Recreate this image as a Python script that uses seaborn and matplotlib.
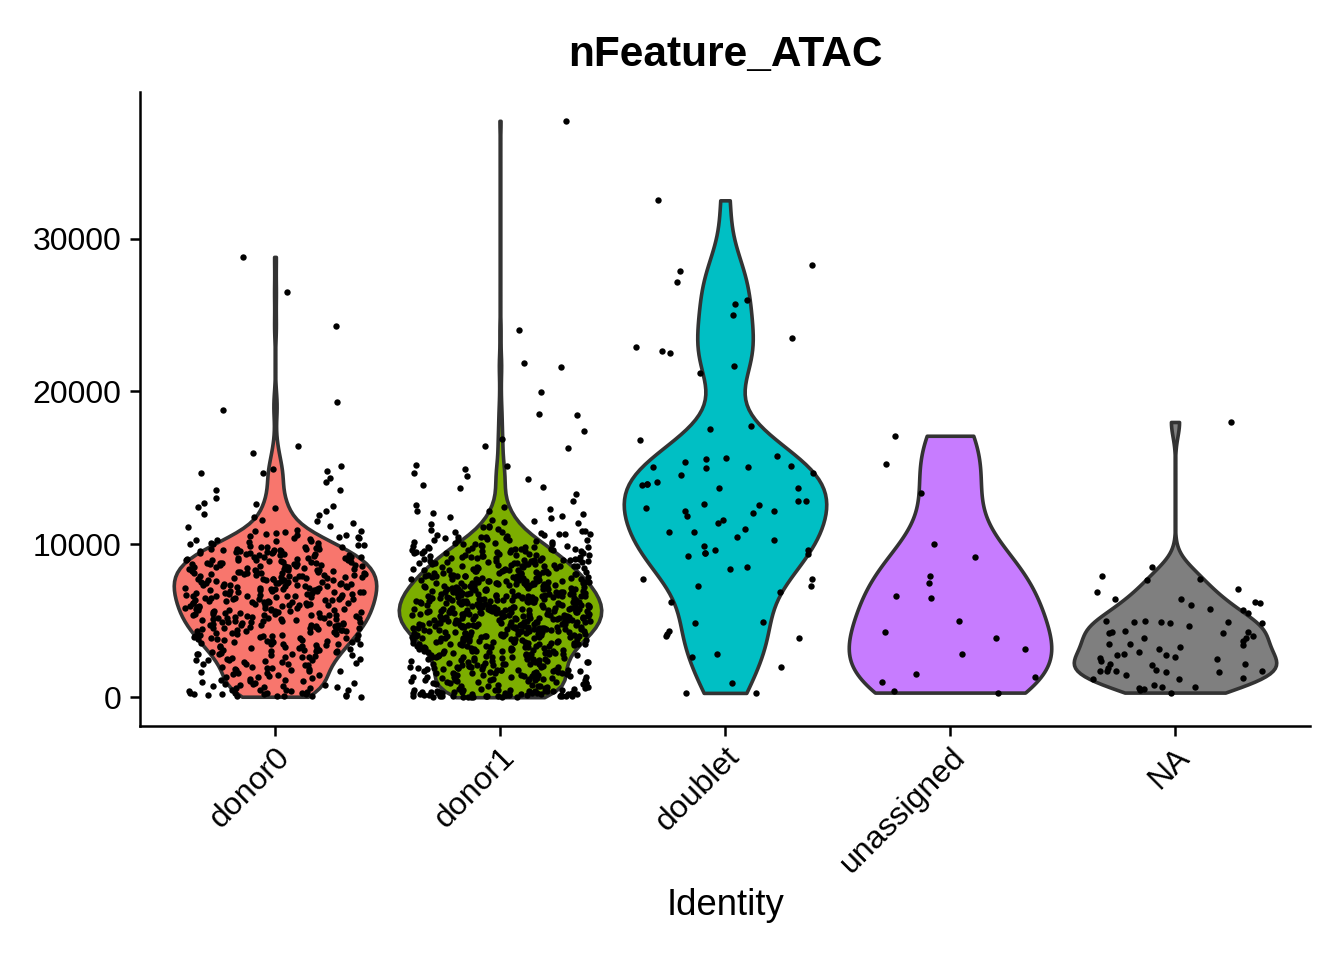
import numpy as np
import pandas as pd
import matplotlib
matplotlib.use("Agg")
import matplotlib.pyplot as plt
import seaborn as sns

idents = ["donor0", "donor1", "doublet", "unassigned", "NA"]
ident_colors = ["#F8766D", "#7CAE00", "#00BFC4", "#C77CFF", "#7F7F7F"]
y_ticks = [0, 10000, 20000, 30000]

# nFeature_ATAC per cell (approx.)
donor0 = [
    50, 60, 80, 100, 100, 120, 150, 180, 200, 200, 250, 300, 300, 300, 350, 400, 400, 450, 500, 500,
    600, 600, 650, 700, 700, 800, 800, 850, 900, 950, 30, 230, 470, 680, 870,
    1000, 1050, 1100, 1200, 1300, 1350, 1400, 1500, 1550, 1600, 1700, 1750, 1800, 1850, 1900, 1950,
    1100, 1450, 1650, 1900, 1070, 1280, 1470, 1680, 1870,
    2000, 2100, 2150, 2200, 2300, 2350, 2400, 2450, 2500, 2500, 2600, 2650, 2700, 2750, 2800, 2800,
    2850, 2900, 2950, 2150, 2450, 2650, 2850, 2250, 2080, 2270, 2420, 2580, 2770, 2930,
    3000, 3000, 3050, 3100, 3100, 3150, 3200, 3200, 3250, 3300, 3350, 3400, 3400, 3450, 3500, 3500,
    3550, 3600, 3600, 3650, 3700, 3700, 3750, 3800, 3800, 3850, 3900, 3900, 3950, 3950,
    3080, 3220, 3380, 3470, 3580, 3720, 3830, 3970,
    4000, 4000, 4050, 4100, 4100, 4150, 4200, 4200, 4250, 4300, 4300, 4350, 4400, 4400, 4450, 4500,
    4500, 4550, 4600, 4600, 4650, 4700, 4700, 4750, 4800, 4800, 4850, 4850, 4900, 4900, 4950, 4950,
    4250, 4550, 4750, 4030, 4130, 4270, 4380, 4470, 4530, 4680, 4720, 4830, 4970,
    5000, 5000, 5050, 5100, 5100, 5150, 5200, 5200, 5250, 5300, 5300, 5350, 5400, 5400, 5450, 5500,
    5500, 5550, 5600, 5600, 5650, 5700, 5700, 5750, 5800, 5800, 5850, 5900, 5900, 5950, 5950, 5150,
    5350, 5450, 5650, 5850, 5250, 5030, 5130, 5270, 5380, 5470, 5530, 5680, 5720, 5830, 5970, 5160,
    5640,
    6000, 6000, 6050, 6100, 6100, 6150, 6200, 6200, 6250, 6300, 6300, 6350, 6400, 6400, 6450, 6500,
    6500, 6550, 6600, 6600, 6650, 6700, 6700, 6750, 6800, 6800, 6850, 6900, 6900, 6950, 6950, 6050,
    6250, 6450, 6650, 6850, 6150, 6550, 6750, 6030, 6130, 6270, 6380, 6470, 6530, 6680, 6720, 6830,
    6970, 6160, 6640, 6340,
    7000, 7000, 7050, 7100, 7100, 7150, 7200, 7200, 7250, 7300, 7300, 7350, 7400, 7400, 7450, 7500,
    7500, 7550, 7600, 7600, 7650, 7700, 7700, 7750, 7800, 7800, 7850, 7900, 7900, 7950, 7950, 7050,
    7250, 7450, 7650, 7850, 7150, 7550, 7750, 7350, 7030, 7130, 7270, 7380, 7470, 7530, 7680, 7720,
    7830, 7970, 7160, 7640, 7340, 7820,
    8000, 8000, 8050, 8100, 8100, 8150, 8200, 8200, 8250, 8300, 8300, 8350, 8400, 8400, 8450, 8500,
    8500, 8550, 8600, 8600, 8650, 8700, 8700, 8750, 8800, 8800, 8850, 8900, 8900, 8950, 8950, 8050,
    8250, 8450, 8650, 8850, 8150, 8550, 8750, 8030, 8130, 8270, 8380, 8470, 8530, 8680, 8720, 8830,
    8970, 8160, 8640, 8340,
    9000, 9000, 9050, 9100, 9100, 9150, 9200, 9200, 9250, 9300, 9300, 9350, 9400, 9400, 9450, 9500,
    9500, 9550, 9600, 9600, 9650, 9700, 9700, 9750, 9800, 9800, 9850, 9900, 9900, 9950, 9150, 9350,
    9550, 9030, 9130, 9270, 9380, 9470, 9530, 9680, 9720, 9830, 9970,
    10000, 10050, 10100, 10150, 10200, 10250, 10300, 10350, 10400, 10450, 10500, 10550, 10600, 10700,
    10750, 10850, 10900, 10950, 10080, 10230, 10420, 10630, 10810,
    11100, 11200, 11400, 11500, 11600, 11800, 11900,
    12000, 12150, 12400, 12450, 12500, 12650, 12700, 13000, 13550, 13550, 14100, 14350, 14650, 14650,
    14800, 14950, 15150, 16000, 16400, 18800, 19300, 24250, 26500, 28800,
]

donor1 = [
    0, 0, 0, 10, 20, 30, 40, 50, 50, 60, 70, 80, 90, 100, 100, 100, 100, 110, 120, 130, 130, 150,
    150, 150, 160, 180, 180,
    200, 200, 200, 200, 220, 240, 250, 250, 260, 270, 300, 300, 300, 320, 330, 340, 350, 350, 380,
    400, 400, 400, 420, 430, 450, 450, 480, 500, 500, 500, 520, 550, 550, 600, 600, 650, 650, 700,
    700, 750, 750, 800, 800, 850, 850, 900, 900, 950, 950,
    1000, 1000, 1050, 1100, 1100, 1150, 1200, 1200, 1250, 1300, 1300, 1350, 1400, 1400, 1450, 1500,
    1500, 1550, 1600, 1600, 1650, 1700, 1700, 1750, 1800, 1800, 1850, 1900, 1900, 1950, 1050, 1150,
    1250, 1350, 1450, 1550, 1650, 1750, 1850, 1950, 1020, 1180, 1320, 1480, 1620, 1780, 1920, 1240,
    1560, 1880, 1030, 1130, 1270, 1380, 1470, 1580, 1680, 1770, 1870, 1970,
    2000, 2000, 2050, 2100, 2100, 2150, 2200, 2200, 2250, 2300, 2300, 2350, 2400, 2400, 2450, 2500,
    2500, 2550, 2600, 2600, 2650, 2700, 2700, 2750, 2800, 2800, 2850, 2900, 2900, 2950, 2050, 2150,
    2250, 2350, 2450, 2550, 2650, 2750, 2850, 2950, 2020, 2180, 2320, 2480, 2620, 2780, 2920,
    2030, 2130, 2270, 2380, 2470, 2580, 2680, 2770, 2870, 2970,
    3000, 3000, 3050, 3100, 3100, 3150, 3200, 3200, 3250, 3300, 3300, 3350, 3400, 3400, 3450, 3500,
    3500, 3550, 3600, 3600, 3650, 3700, 3700, 3750, 3800, 3800, 3850, 3900, 3900, 3950, 3050, 3150,
    3250, 3350, 3450, 3550, 3650, 3750, 3850, 3950, 3020, 3180, 3320, 3480, 3620, 3780, 3920, 3240,
    3560, 3880, 3030, 3080, 3130, 3220, 3270, 3330, 3380, 3420, 3470, 3530, 3580, 3630, 3680, 3720,
    3770, 3830, 3870, 3930, 3970, 3610,
    4000, 4000, 4050, 4100, 4100, 4150, 4200, 4200, 4250, 4300, 4300, 4350, 4400, 4400, 4450, 4500,
    4500, 4550, 4600, 4600, 4650, 4700, 4700, 4750, 4800, 4800, 4850, 4900, 4900, 4950, 4050, 4150,
    4250, 4350, 4450, 4550, 4650, 4750, 4850, 4950, 4020, 4180, 4320, 4480, 4620, 4780, 4920, 4240,
    4560, 4880, 4100, 4300, 4500, 4700, 4900, 4000, 4600, 4030, 4080, 4130, 4220, 4270, 4330, 4380,
    4420, 4470, 4530, 4580, 4630, 4680, 4720, 4770, 4830, 4870, 4930, 4970, 4610, 4110, 4290, 4510,
    4690, 4810, 4160, 4340, 4460, 4640, 4760,
    5000, 5000, 5050, 5100, 5100, 5150, 5200, 5200, 5250, 5300, 5300, 5350, 5400, 5400, 5450, 5500,
    5500, 5550, 5600, 5600, 5650, 5700, 5700, 5750, 5800, 5800, 5850, 5900, 5900, 5950, 5050, 5150,
    5250, 5350, 5450, 5550, 5650, 5750, 5850, 5950, 5020, 5180, 5320, 5480, 5620, 5780, 5920, 5240,
    5560, 5880, 5000, 5100, 5200, 5300, 5400, 5500, 5600, 5700, 5800, 5900, 5030, 5080, 5130, 5220,
    5270, 5330, 5380, 5420, 5470, 5530, 5580, 5630, 5680, 5720, 5770, 5830, 5870, 5930, 5970, 5610,
    5110, 5290, 5510, 5690, 5810, 5160, 5340, 5460, 5640, 5760, 5210, 5410, 5710,
    6000, 6000, 6050, 6100, 6100, 6150, 6200, 6200, 6250, 6300, 6300, 6350, 6400, 6400, 6450, 6500,
    6500, 6550, 6600, 6600, 6650, 6700, 6700, 6750, 6800, 6800, 6850, 6900, 6900, 6950, 6050, 6150,
    6250, 6350, 6450, 6550, 6650, 6750, 6850, 6950, 6020, 6180, 6320, 6480, 6620, 6780, 6920, 6240,
    6560, 6880, 6100, 6300, 6500, 6700, 6900, 6000, 6600, 6030, 6080, 6130, 6220, 6270, 6330, 6380,
    6420, 6470, 6530, 6580, 6630, 6680, 6720, 6770, 6830, 6870, 6930, 6970, 6610, 6110, 6290, 6510,
    6690, 6810, 6160, 6340, 6460, 6640, 6760, 6210, 6410,
    7000, 7000, 7050, 7100, 7100, 7150, 7200, 7200, 7250, 7300, 7300, 7350, 7400, 7400, 7450, 7500,
    7500, 7550, 7600, 7600, 7650, 7700, 7700, 7750, 7800, 7800, 7850, 7900, 7900, 7950, 7050, 7150,
    7250, 7350, 7450, 7550, 7650, 7750, 7850, 7950, 7020, 7180, 7320, 7480, 7620, 7780, 7920, 7240,
    7560, 7880, 7100, 7500, 7030, 7080, 7130, 7220, 7270, 7330, 7380, 7420, 7470, 7530, 7580, 7630,
    7680, 7720, 7770, 7830, 7870, 7930, 7970, 7610, 7110, 7290, 7510, 7690, 7810, 7160, 7340, 7460,
    8000, 8000, 8050, 8100, 8100, 8150, 8200, 8200, 8250, 8300, 8300, 8350, 8400, 8400, 8450, 8500,
    8500, 8550, 8600, 8600, 8650, 8700, 8700, 8750, 8800, 8800, 8850, 8900, 8900, 8950, 8050, 8150,
    8250, 8350, 8450, 8550, 8650, 8750, 8850, 8950, 8240, 8560, 8880, 8030, 8080, 8130, 8220, 8270,
    8330, 8380, 8420, 8470, 8530, 8580, 8630, 8680, 8720, 8770, 8830, 8870, 8930, 8970, 8610, 8110,
    8290,
    9000, 9000, 9050, 9100, 9100, 9150, 9200, 9200, 9250, 9300, 9300, 9350, 9400, 9400, 9450, 9500,
    9500, 9550, 9600, 9600, 9650, 9700, 9700, 9750, 9800, 9800, 9850, 9900, 9900, 9950, 9240, 9560,
    9880, 9020, 9030, 9080, 9130, 9220, 9270, 9330, 9380, 9420, 9470, 9530, 9580, 9630, 9680, 9720,
    9770, 9830,
    10000, 10050, 10100, 10150, 10200, 10250, 10300, 10350, 10400, 10450, 10500, 10550, 10600, 10650,
    10700, 10750, 10800, 10850, 10900, 10950, 10100, 10300, 10030, 10130, 10270, 10380, 10470, 10580,
    10680, 10830,
    11000, 11100, 11150, 11200, 11300, 11400, 11450, 11500, 11600, 11700, 11800, 11850, 11950,
    12050, 12150, 12200, 12300, 12450, 12600, 12800, 13300, 13650, 13750, 13900, 14300, 14500, 14650,
    14950, 15150, 15200, 16300, 16450, 16900, 17400, 18450, 18500, 19950, 21600, 21850, 24000, 37700,
]

doublet = [
    32500, 28250, 27850, 27150, 25950, 25750, 25000, 23500, 22900, 22650, 22500, 21650, 21200, 17750,
    17550, 16850, 15800, 15650, 15550, 15400, 15150, 15050, 15050, 15000, 14650, 14550, 14100, 13950,
    13950, 13850, 13700, 13700, 12850, 12850, 12650, 12600, 12400, 12200, 12200, 12050, 11850, 11600,
    11400, 11000, 10800, 10800, 10450, 10300, 9900, 9650, 9650, 9450, 9450, 9350, 9250, 8500, 8400,
    7750, 7750, 7300, 7250, 6900, 6250, 4950, 4850, 4350, 4150, 4000, 3900, 2800, 2650, 1950, 900,
    300, 280,
]

unassigned = [
    17100, 15250, 13350, 10050, 9150, 7950, 7450, 6600, 6500, 5000, 4250, 3900, 3150, 2850, 1500,
    1350, 1000, 400, 300,
]

na_cells = [
    18000, 8500, 7950, 7750, 7650, 7100, 6900, 6450, 6400, 6250, 6150, 6050, 5800, 5700, 5500, 5000,
    5000, 4950, 4900, 4900, 4850, 4850, 4650, 4350, 4250, 4250, 4200, 4200, 4000, 3900, 3900, 3700,
    3450, 3450, 3400, 3250, 3150, 2950, 2800, 2750, 2750, 2600, 2550, 2500, 2350, 2200, 2200, 2100,
    1900, 1750, 1700, 1700, 1700, 1700, 1650, 1650, 1450, 1250, 1200, 1200, 800, 650, 650, 600, 550,
    450, 300,
]

groups = [donor0, donor1, doublet, unassigned, na_cells]
df = pd.DataFrame({
    "Identity": [name for name, vals in zip(idents, groups) for _ in vals],
    "nFeature_ATAC": [v for vals in groups for v in vals],
})
palette = dict(zip(idents, ident_colors))

sns.set_style("ticks")
plt.rcParams["font.family"] = ["Liberation Sans", "DejaVu Sans"]
plt.rcParams["text.color"] = "black"
plt.rcParams["axes.labelcolor"] = "black"

fig = plt.figure(figsize=(13.44, 9.6), dpi=100)
ax = fig.add_axes([140 / 1344, 1 - 726 / 960, 1170 / 1344, 634 / 960])

# one violin per group so each gets an R-like (bw.nrd0) bandwidth
for name, vals in zip(idents, groups):
    v = np.asarray(vals, dtype=float)
    sd = v.std(ddof=1)
    q75, q25 = np.percentile(v, [75, 25])
    adj = 0.9 * min(sd, (q75 - q25) / 1.34) / sd
    sns.violinplot(
        data=df[df["Identity"] == name], x="Identity", y="nFeature_ATAC", hue="Identity",
        order=idents, hue_order=idents, palette=palette, saturation=1, density_norm="width",
        cut=0, inner=None, width=0.9, linewidth=2.6, linecolor="#333333", bw_method="scott",
        bw_adjust=adj, legend=False, ax=ax,
    )

np.random.seed(3)
sns.stripplot(
    data=df, x="Identity", y="nFeature_ATAC", order=idents, color="black", jitter=0.4,
    size=4.6, linewidth=0, ax=ax,
)

lo, hi = df["nFeature_ATAC"].min(), df["nFeature_ATAC"].max()
pad = 0.05 * (hi - lo)
ax.set_ylim(lo - pad, hi + pad)
ax.set_xlim(-0.6, len(idents) - 0.4)
ax.set_yticks(y_ticks)
ax.set_yticklabels([str(t) for t in y_ticks])

sns.despine(ax=ax)
for side in ["left", "bottom"]:
    ax.spines[side].set_linewidth(1.8)
    ax.spines[side].set_color("black")
ax.tick_params(axis="both", labelsize=23, length=7.5, width=1.8, colors="black")
ax.tick_params(axis="y", pad=6)
ax.tick_params(axis="x", pad=4)
plt.setp(ax.get_xticklabels(), rotation=45, ha="right", va="top", rotation_mode="anchor")

ax.set_ylabel("")
ax.set_xlabel("Identity", fontsize=26.3, color="black")
ax.xaxis.set_label_coords(0.5, -0.255)
ax.set_title("nFeature_ATAC", fontsize=30.5, fontweight="bold", color="black", pad=19)

fig.savefig("out.png", dpi=100)
